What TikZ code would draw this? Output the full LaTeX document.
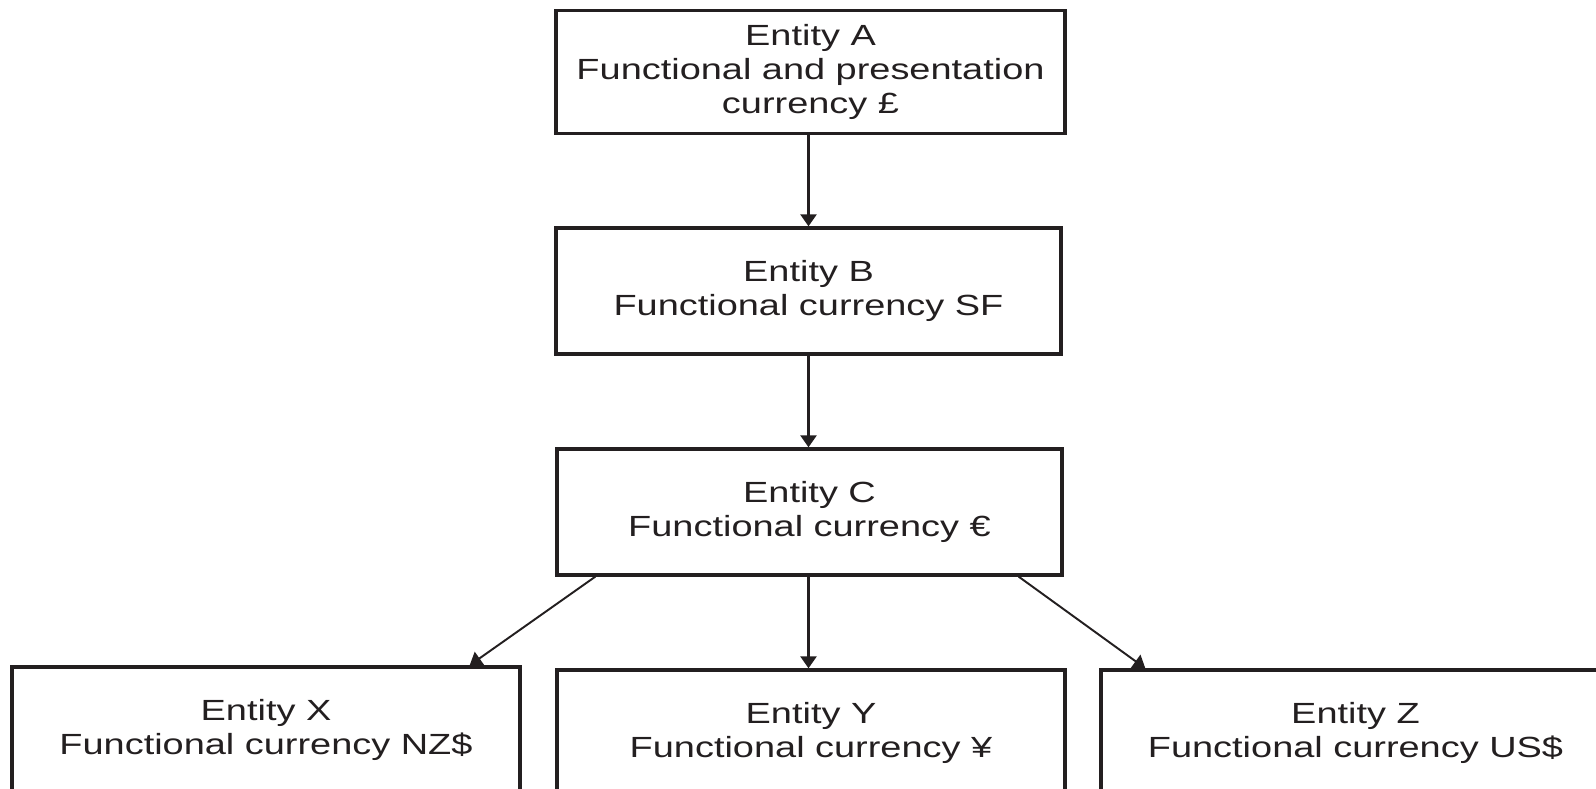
\documentclass[tikz,border=0pt]{standalone}
\usepackage{fontspec}
\newfontfamily\boxfont[FakeStretch=1.3]{Liberation Sans}
\usepackage{tikz}
\usetikzlibrary{positioning,calc,arrows.meta}
\definecolor{ink}{HTML}{231F20}

\tikzset{
    entity/.style={draw=ink, line width=0.95pt, rectangle, minimum height=1.26cm,
        inner sep=0pt, align=center, text=ink,
        font=\boxfont\fontsize{8.3}{9.6}\selectfont},
    link/.style={draw=ink, line width=0.75pt, -{Triangle[length=1.2mm,width=1.6mm]}},
    slant/.style={link, line width=0.55pt}
}

\begin{document}
\begin{tikzpicture}
    \useasboundingbox (0, 0) rectangle (15.96, 7.89);
    \clip (0, 0) rectangle (15.96, 7.89);

    % Parent chain
    \node [entity, minimum width=5.09cm, minimum height=1.23cm] (entA) at (8.105, 7.17)
        {Entity A\\Functional and presentation\\currency £};
    \node [entity, minimum width=5.05cm] (entB) at (8.085, 4.98)
        {Entity B\\Functional currency SF};
    \node [entity, minimum width=5.05cm] (entC) at (8.095, 2.77)
        {Entity C\\Functional currency €};

    % Subsidiaries of C
    \node [entity, minimum width=5.08cm] (entX) at (2.66, 0.59)
        {Entity X\\Functional currency NZ\$};
    \node [entity, minimum width=5.08cm] (entY) at (8.11, 0.56)
        {Entity Y\\Functional currency ¥};
    \node [entity, minimum width=5.09cm] (entZ) at (13.555, 0.56)
        {Entity Z\\Functional currency US\$};

    % Arrows (straight down along B's centre line)
    \draw [link] (entB.north |- entA.south) -- (entB.north);
    \draw [link] (entB.south) -- (entB.south |- entC.north);
    \draw [link] (entB.south |- entC.south) -- (entB.south |- entY.north);
    \draw [slant] ($(entC.south west)+(0.40, 0)$) -- ($(entX.north east)+(-0.52, 0)$);
    \draw [slant] ($(entC.south east)+(-0.45, 0)$) -- ($(entZ.north west)+(0.46, 0)$);
\end{tikzpicture}
\end{document}
